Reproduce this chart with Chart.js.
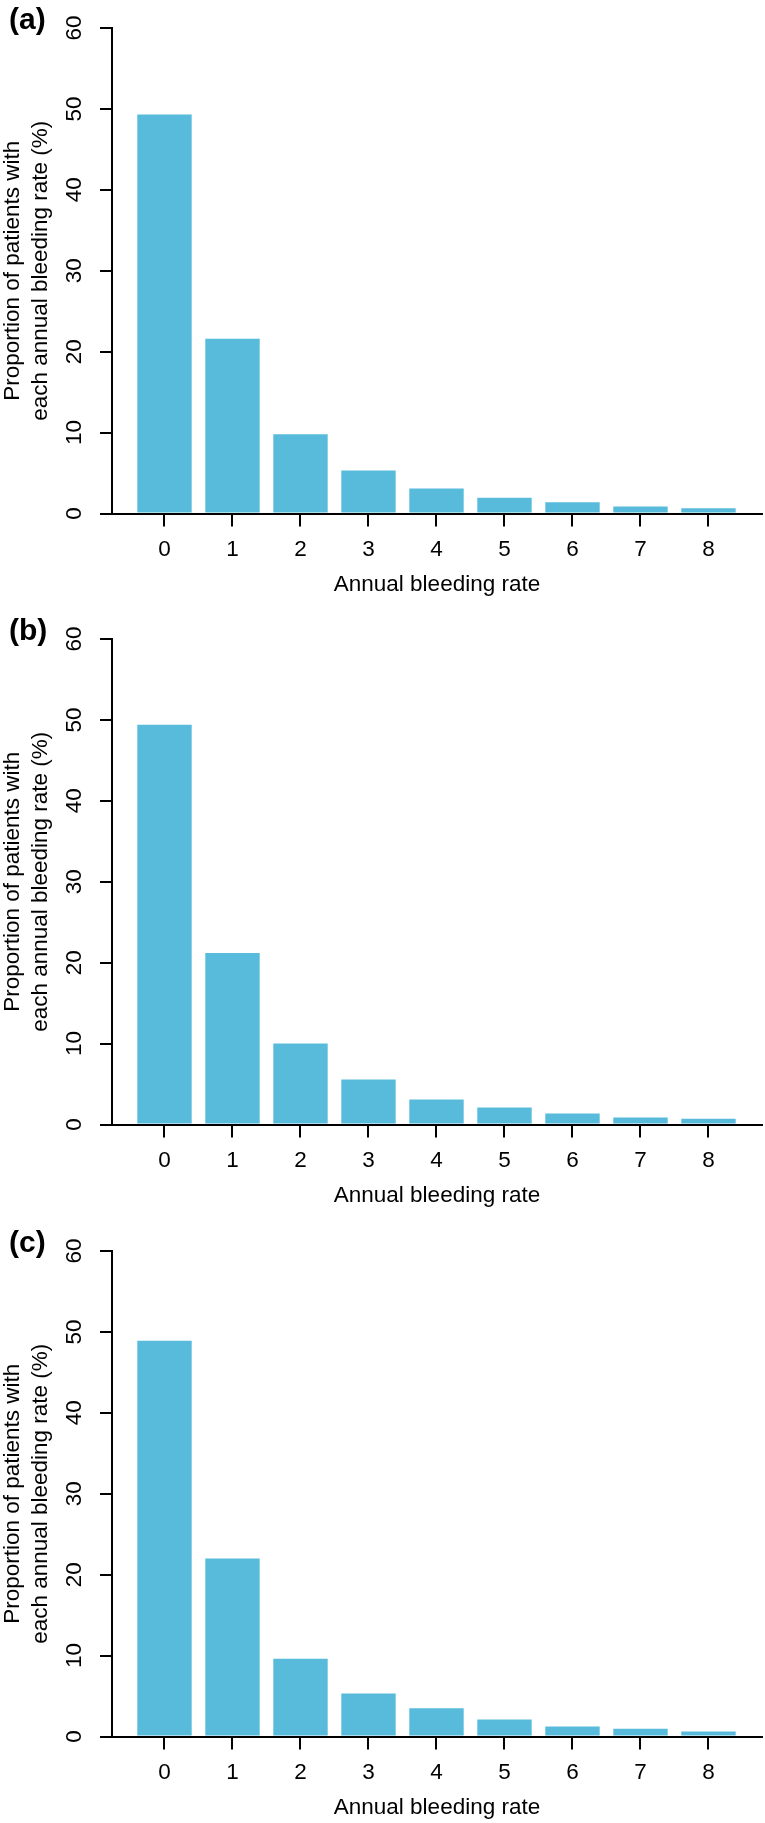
<!DOCTYPE html>
<html><head><meta charset="utf-8">
<script src="https://cdn.jsdelivr.net/npm/chart.js@4.4.1/dist/chart.umd.min.js"></script>
<style>
html,body{margin:0;padding:0;background:#fff;overflow:hidden;width:765px;height:1823px;}
canvas{position:absolute;left:0;}
</style></head><body>
<canvas id="ca" width="765" height="600" style="top:0px"></canvas>
<canvas id="cb" width="765" height="600" style="top:611px"></canvas>
<canvas id="cc" width="765" height="600" style="top:1223px"></canvas>
<script>
const categories = ['0','1','2','3','4','5','6','7','8'];
const panelLabels = ['(a)','(b)','(c)'];
const valuesA = [49.3, 21.6, 9.8, 5.3, 3.1, 1.95, 1.4, 0.87, 0.66];
const valuesB = [49.4, 21.2, 10.0, 5.55, 3.1, 2.1, 1.35, 0.87, 0.7];
const valuesC = [48.9, 22.0, 9.6, 5.3, 3.5, 2.1, 1.25, 0.95, 0.62];
const yTicks = [0, 10, 20, 30, 40, 50, 60];
const xTitle = 'Annual bleeding rate';
const yTitle = ['Proportion of patients with', 'each annual bleeding rate (%)'];

const FONT = '"Liberation Sans", Arial, Helvetica, sans-serif';
const BAR = '#58BBDC';
Chart.defaults.font.family = FONT;
Chart.defaults.color = '#000';

const panelLabelPlugin = {
  id: 'panelLabel',
  afterDraw(chart, args, opts) {
    const ctx = chart.ctx;
    ctx.save();
    ctx.font = 'bold 30px ' + FONT;
    ctx.fillStyle = '#000';
    ctx.textAlign = 'left';
    ctx.textBaseline = 'middle';
    ctx.fillText(opts.text, 9, 21);
    ctx.restore();
  }
};

function makeChart(id, values, label) {
  const data = categories.map((c, i) => ({ x: i, y: values[i] }));
  return new Chart(document.getElementById(id), {
    type: 'bar',
    data: {
      datasets: [{
        data: data,
        backgroundColor: BAR,
        borderWidth: 0,
        barPercentage: 0.8,
        categoryPercentage: 1.0
      }]
    },
    plugins: [panelLabelPlugin],
    options: {
      responsive: false,
      animation: false,
      devicePixelRatio: 1,
      layout: { padding: { top: 28, left: 0, right: 3, bottom: 0 } },
      plugins: {
        legend: { display: false },
        tooltip: { enabled: false },
        panelLabel: { text: label }
      },
      scales: {
        x: {
          type: 'linear',
          offset: false,
          min: -0.772,
          max: 8.787,
          afterBuildTicks: s => { s.ticks = categories.map((c, i) => ({ value: i })); },
          afterFit: s => { s.height = 86.5; },
          grid: { offset: false, drawOnChartArea: false, drawTicks: true, tickLength: 13, color: '#000', lineWidth: 2 },
          border: { display: true, color: '#000', width: 2 },
          ticks: {
            autoSkip: false,
            maxRotation: 0,
            padding: 9.5,
            font: { size: 22.5 },
            callback: (v, i) => categories[i]
          },
          title: {
            display: true,
            text: xTitle,
            font: { size: 22.5, lineHeight: 1.2 },
            padding: { top: 0, bottom: 1.5 }
          }
        },
        y: {
          min: 0,
          max: 60,
          afterBuildTicks: s => { s.ticks = yTicks.map(v => ({ value: v })); },
          afterFit: s => { s.width = 112; },
          grid: { drawOnChartArea: false, drawTicks: true, tickLength: 12, color: '#000', lineWidth: 2 },
          border: { display: true, color: '#000', width: 2 },
          ticks: {
            autoSkip: false,
            minRotation: 90,
            maxRotation: 90,
            crossAlign: 'center',
            padding: 13,
            font: { size: 22.5 }
          },
          title: {
            display: true,
            text: yTitle,
            font: { size: 22.5, lineHeight: 1.25 },
            padding: { top: -1, bottom: 0 }
          }
        }
      }
    }
  });
}

makeChart('ca', valuesA, panelLabels[0]);
makeChart('cb', valuesB, panelLabels[1]);
makeChart('cc', valuesC, panelLabels[2]);
</script>
</body></html>
